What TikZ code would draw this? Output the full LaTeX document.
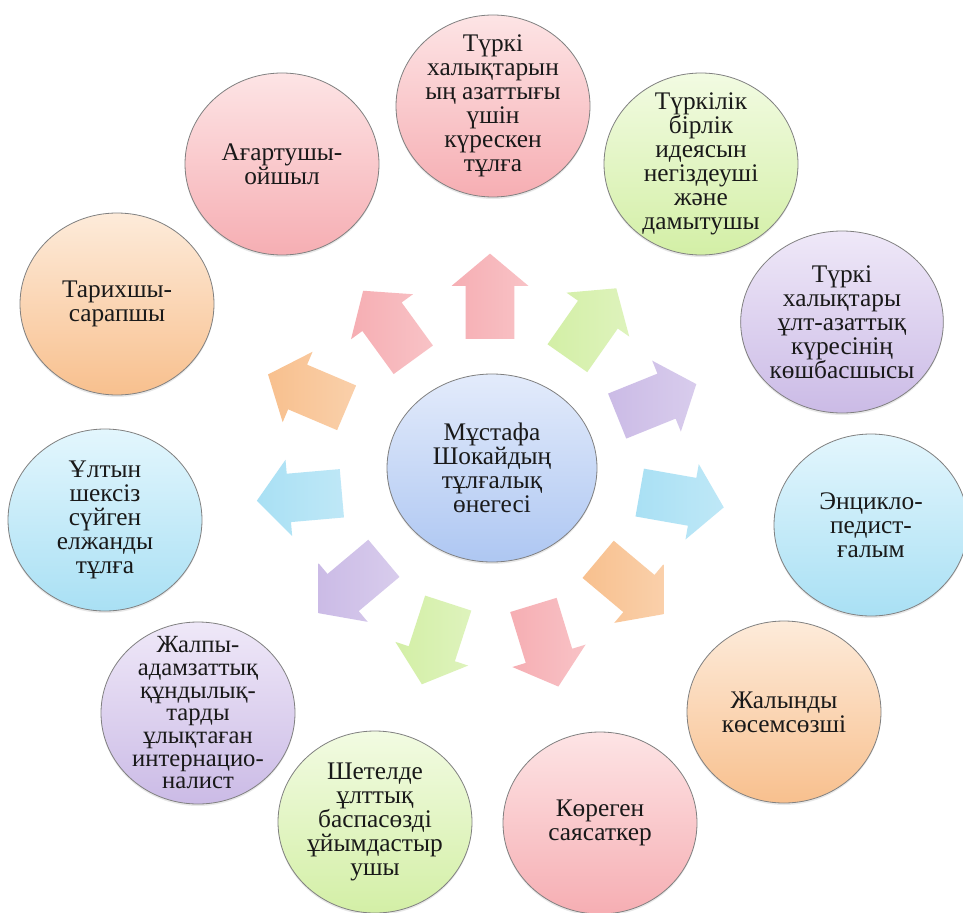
\documentclass[tikz,border=0pt]{standalone}
\usepackage{fontspec}
\IfFontExistsTF{LiberationSerif-Regular.ttf}{\setmainfont{LiberationSerif-Regular.ttf}}{\setmainfont{Liberation Serif}}
\usetikzlibrary{shapes.geometric,shapes.arrows,shadows}
\definecolor{pinkT}{HTML}{FDE4E5}
\definecolor{pinkB}{HTML}{F6AEB3}
\definecolor{greenT}{HTML}{F2FBE2}
\definecolor{greenB}{HTML}{D3EFA6}
\definecolor{purpT}{HTML}{EFE8F8}
\definecolor{purpB}{HTML}{CBBBE6}
\definecolor{cyanT}{HTML}{E3F6FD}
\definecolor{cyanB}{HTML}{A9E0F4}
\definecolor{orT}{HTML}{FDEBDA}
\definecolor{orB}{HTML}{F8C08E}
\definecolor{blueT}{HTML}{E3EBFB}
\definecolor{blueB}{HTML}{AEC7F2}
\tikzset{
  bub/.style={ellipse, draw=black!50, line width=0.6pt, minimum width=145.5pt, minimum height=136.5pt, inner sep=0pt,
    drop shadow={shadow xshift=0pt, shadow yshift=-1.5pt, opacity=0.18}},
  bpink/.style={bub, top color=pinkT, bottom color=pinkB},
  bgreen/.style={bub, top color=greenT, bottom color=greenB},
  bpurp/.style={bub, top color=purpT, bottom color=purpB},
  bcyan/.style={bub, top color=cyanT, bottom color=cyanB},
  bor/.style={bub, top color=orT, bottom color=orB},
  lbl/.style={align=center, font=\fontsize{19}{18}\selectfont, text=black!90, inner sep=0pt},
  arr/.style={single arrow, draw=none, minimum height=64pt, inner xsep=0pt, inner ysep=18pt, single arrow head extend=10.5pt, single arrow tip angle=100},
  apink/.style={arr, left color=pinkB, right color=pinkB!75!white},
  agreen/.style={arr, left color=greenB, right color=greenB!75!white},
  apurp/.style={arr, left color=purpB, right color=purpB!75!white},
  acyan/.style={arr, left color=cyanB, right color=cyanB!75!white},
  aor/.style={arr, left color=orB, right color=orB!75!white},
}
\begin{document}
\begin{tikzpicture}[x=0.75pt,y=-0.75pt]
\useasboundingbox[fill=white] (0,0) rectangle (963,913);
% arrows
\node[apink,  rotate=90]   (a1)  at (490,306.5) {};
\node[agreen, rotate=55]   (a2)  at (586,331.6) {};
\node[apurp,  rotate=22]   (a3)  at (647.3,403.9) {};
\node[acyan,  rotate=-10]  (a4)  at (671.7,498.2) {};
\node[aor,    rotate=-40]  (a5)  at (623,580.2) {};
\node[apink,  rotate=-73]  (a6)  at (542.9,636) {};
\node[agreen, rotate=-108] (a7)  at (438.2,634) {};
\node[apurp,  rotate=-140] (a8)  at (359,579.2) {};
\node[acyan,  rotate=185]  (a9)  at (309.5,496.1) {};
\node[aor,    rotate=157]  (a10) at (316.7,395.1) {};
\node[apink,  rotate=126]  (a11) at (394.2,333.5) {};
% centre
\node[bub, top color=blueT, bottom color=blueB, minimum width=157.5pt, minimum height=141pt] (c0) at (492,468) {};
\node[lbl] (t0) at (c0.center) {Мұстафа\\Шокайдың\\тұлғалық\\өнегесі};
% outer circles
\node[bpink]  (c1)  at (493,106) {};
\node[bgreen] (c2)  at (701,164) {};
\node[bpurp, minimum width=152pt]  (c3)  at (842,322) {};
\node[bcyan]  (c4)  at (871,525) {};
\node[bor]    (c5)  at (784,712) {};
\node[bpink]  (c6)  at (600,823) {};
\node[bgreen] (c7)  at (375,822) {};
\node[bpurp]  (c8)  at (198,713) {};
\node[bcyan]  (c9)  at (105,520) {};
\node[bor]    (c10) at (117,304) {};
\node[bpink]  (c11) at (282,164) {};
\node[lbl] (t1)  at (c1.center)  {Түркі\\халықтарын\\ың азаттығы\\үшін\\күрескен\\тұлға};
\node[lbl] (t2)  at (c2.center)  {Түркілік\\бірлік\\идеясын\\негіздеуші\\және\\дамытушы};
\node[lbl] (t3)  at (c3.center)  {Түркі\\халықтары\\ұлт-азаттық\\күресінің\\көшбасшысы};
\node[lbl] (t4)  at (c4.center)  {Энцикло-\\педист-\\ғалым};
\node[lbl] (t5)  at (c5.center)  {Жалынды\\көсемсөзші};
\node[lbl] (t6)  at (c6.center)  {Көреген\\саясаткер};
\node[lbl] (t7)  at (c7.center)  {Шетелде\\ұлттық\\баспасөзді\\ұйымдастыр\\ушы};
\node[lbl, font=\fontsize{18.5}{17}\selectfont] (t8)  at (c8.center)  {Жалпы-\\адамзаттық\\құндылық-\\тарды\\ұлықтаған\\интернацио-\\налист};
\node[lbl] (t9)  at (c9.center)  {Ұлтын\\шексіз\\сүйген\\елжанды\\тұлға};
\node[lbl] (t10) at (c10.center) {Тарихшы-\\сарапшы};
\node[lbl] (t11) at (c11.center) {Ағартушы-\\ойшыл};
\end{tikzpicture}
\end{document}
